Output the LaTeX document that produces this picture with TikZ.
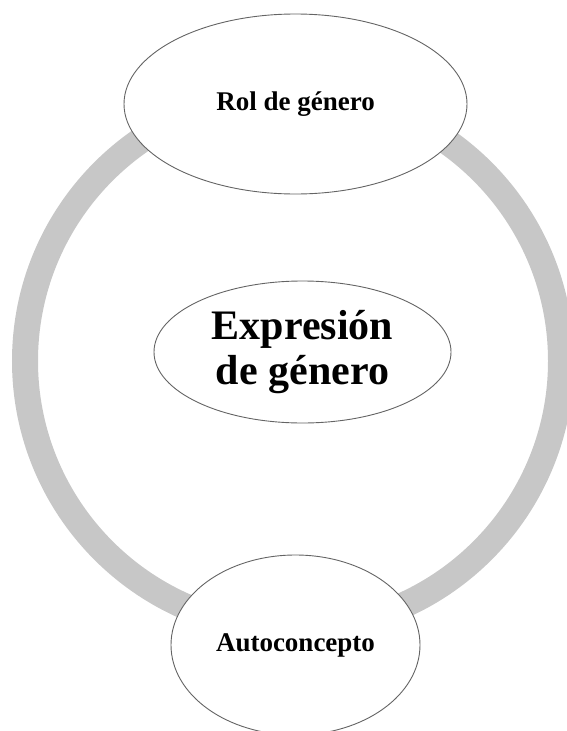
\documentclass[tikz,border=0pt]{standalone}
\usepackage{fontspec}
\setmainfont{Liberation Serif}
\usetikzlibrary{shapes.geometric}
\definecolor{ringgray}{RGB}{199,199,199}
\definecolor{edgegray}{RGB}{100,100,100}
\begin{document}
\begin{tikzpicture}[x=1pt,y=-1pt,
  bubble/.style={ellipse, draw=edgegray, line width=0.9pt, fill=white, inner sep=0pt, font=\bfseries\fontsize{27}{31}\selectfont},
  core/.style={ellipse, draw=edgegray, line width=0.9pt, fill=white, inner sep=0pt, align=center, font=\bfseries\fontsize{42}{45}\selectfont}]
\useasboundingbox (0,0) rectangle (566,731);
\coordinate (ringc) at (293,361);
\draw[ringgray, line width=26pt] (ringc) circle[radius=268];
\node[bubble, minimum width=343, minimum height=180] (rol) at (295.5,104) {Rol de género};
\node[core, minimum width=297, minimum height=142] (expr) at (302.5,352) {Expresión\\de género};
\node[bubble, minimum width=249, minimum height=180] (auto) at (295.5,645) {Autoconcepto};
\end{tikzpicture}
\end{document}
